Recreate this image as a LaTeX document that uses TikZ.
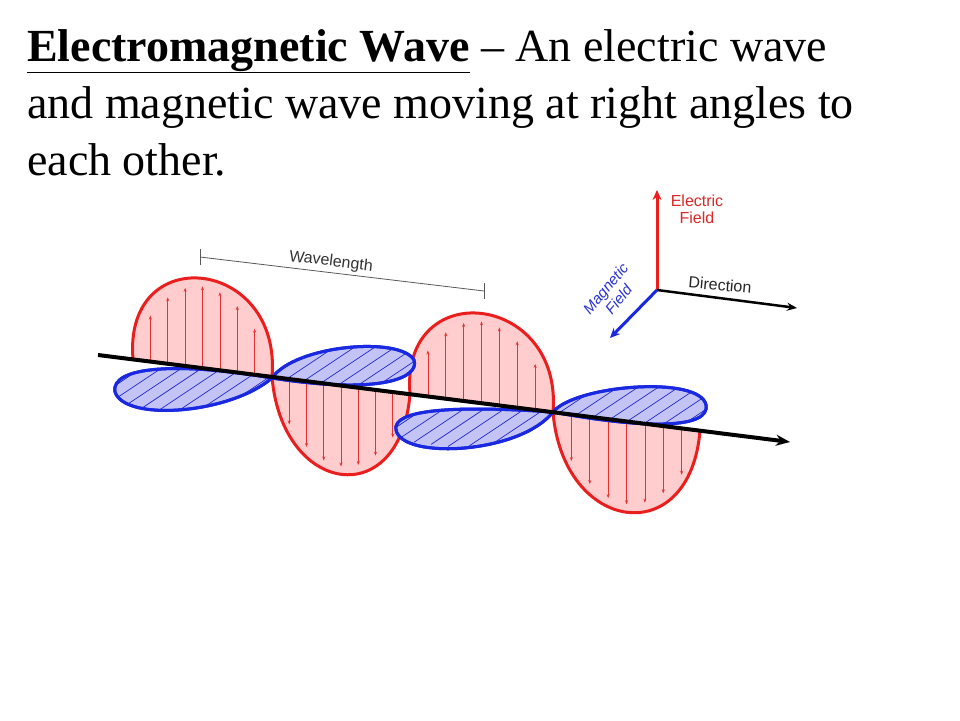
\documentclass[tikz,border=0pt]{standalone}
\usepackage{fontspec}
\setmainfont{Liberation Serif}
\setsansfont{Liberation Sans}
\usetikzlibrary{arrows.meta,calc}
\definecolor{wred}{RGB}{235,30,30}
\definecolor{wredfill}{RGB}{255,205,205}
\definecolor{wredthin}{RGB}{230,50,50}
\definecolor{wblue}{RGB}{25,40,225}
\definecolor{wbluefill}{RGB}{195,195,245}
\definecolor{wbluethin}{RGB}{30,40,200}
\definecolor{lblred}{RGB}{220,40,40}
\definecolor{lblblue}{RGB}{40,50,210}
\newcommand\mybluelobe[2]{%
  \path[bluelobe] #1;
  \begin{scope}
    \clip #1;
    \foreach \xx in {100,117,...,720}{
      \draw[barr] (\xx,{\ay{\xx}}) -- ++({-60*#2},{40*#2});
    }
  \end{scope}
  \draw[wblue,line width=3pt] #1;
}
\begin{document}
\begin{tikzpicture}[x=1pt,y=-1pt,
  redlobe/.style={draw=wred,line width=3pt,fill=wredfill},
  bluelobe/.style={draw=wblue,line width=3pt,fill=wbluefill},
  rarr/.style={draw=wredthin,line width=0.6pt,-{Stealth[length=4pt,width=3pt]}},
  barr/.style={draw=wbluethin,line width=0.7pt},
  lbl/.style={font=\sffamily\fontsize{16}{17}\selectfont,inner sep=0pt},
  ttl/.style={anchor=base west,inner sep=0pt,font=\fontsize{46}{57}\selectfont}]
\useasboundingbox (0,0) rectangle (960,720);
\fill[white] (0,0) rectangle (960,720);
% title
\node[ttl] (t1) at (27,61) {\textbf{\underline{Electromagnetic Wave}} – An electric wave};
\node[ttl] (t2) at (27,118) {and magnetic wave moving at right angles to};
\node[ttl] (t3) at (27,175) {each other.};
\def\ay#1{355+(#1-98)*0.1257}
% red lobes
\foreach \xa/\xb/\h/\s in {133/272/88/1,272/410/-87/-1,410/553/88/1,553/700/-89/-1}{
  \path[redlobe] ({\xa},{\ay{\xa}}) .. controls ({\xa-10*\s},{\ay{\xa}-1.36*\h}) and ({\xb+10*\s},{\ay{\xb}-1.36*\h}) .. ({\xb},{\ay{\xb}}) -- cycle;
  \foreach \k in {1,...,7}{
    \pgfmathsetmacro\xx{\xa+(\xb-\xa)*(\k/8)}
    \draw[rarr] ({\xx},{\ay{\xx}}) -- ({\xx},{\ay{\xx}-0.93*\h*sin(180*\k/8)^0.6});
  }
}
% blue lobes
\mybluelobe{(272,378) .. controls (230,414) and (125,422) .. (115,392) .. controls (110,366) and (180,362) .. (272,378)}{1}
\mybluelobe{(272,378) .. controls (295,345) and (400,336) .. (414,360) .. controls (420,378) and (380,395) .. (272,378)}{-1}
\mybluelobe{(553,412) .. controls (520,454) and (402,460) .. (396,430) .. controls (392,410) and (450,405) .. (553,412)}{1}
\mybluelobe{(553,412) .. controls (575,385) and (700,375) .. (706,405) .. controls (710,428) and (650,430) .. (553,412)}{-1}
% axis
\coordinate (a0) at (98,355);
\coordinate (a1) at (790,442);
\draw[line width=4pt,-{Stealth[length=14pt,width=11pt]}] (a0) -- (a1);
% wavelength
\coordinate (w0) at (200,257);
\coordinate (w1) at (484,291);
\draw[gray!70!black,line width=0.8pt] (w0) -- (w1);
\draw[gray!70!black,line width=0.8pt] ($(w0)+(0,-8)$) -- ($(w0)+(0,8)$);
\draw[gray!70!black,line width=0.8pt] ($(w1)+(0,-8)$) -- ($(w1)+(0,8)$);
\node[lbl,rotate=-6.8,text=black!80] (wl) at (331,262) {Wavelength};
% axes
\coordinate (o) at (657,290);
\coordinate (e) at (657,190);
\coordinate (d) at (797,308);
\coordinate (m) at (610,338);
\draw[wred,line width=3pt,-{Stealth[length=10pt,width=9pt]}] (o) -- (e);
\draw[line width=2.5pt,-{Stealth[length=10pt,width=8pt]}] (o) -- (d);
\draw[wblue,line width=3pt,-{Stealth[length=10pt,width=9pt]}] (o) -- (m);
\node[lbl,align=center,text=lblred] (el) at (697,209) {Electric\\Field};
\node[lbl,rotate=-5,text=black!85] (dl) at (720,285) {Direction};
\node[lbl,align=center,rotate=50,font=\sffamily\itshape\fontsize{15}{17}\selectfont,text=lblblue] (ml) at (612,294) {Magnetic\\Field};
\end{tikzpicture}
\end{document}
